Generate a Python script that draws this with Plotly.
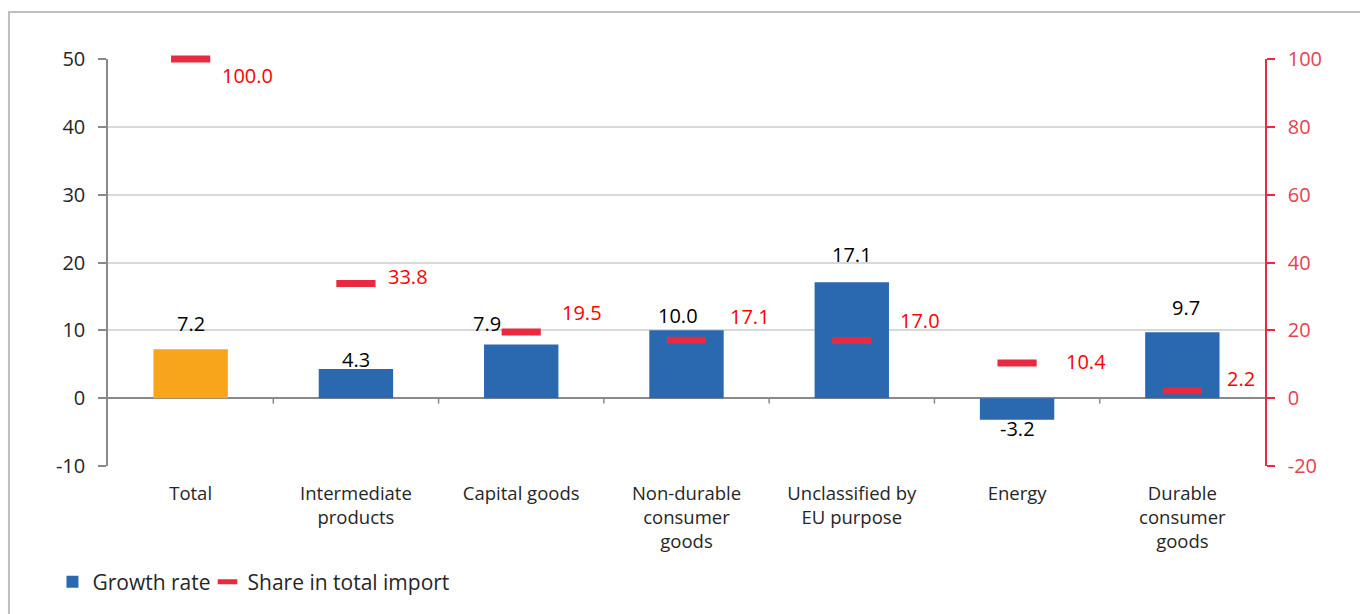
import plotly.graph_objects as go

categories = ["Total", "Intermediate<br>products", "Capital goods", "Non-durable<br>consumer<br>goods",
              "Unclassified by<br>EU purpose", "Energy", "Durable<br>consumer<br>goods"]
growth_rate = [7.2, 4.3, 7.9, 10.0, 17.1, -3.2, 9.7]
import_share = [100.0, 33.8, 19.5, 17.1, 17.0, 10.4, 2.2]

left_ticks = [-10, 0, 10, 20, 30, 40, 50]
right_ticks = [-20, 0, 20, 40, 60, 80, 100]

BLUE = "#2A69B0"
ORANGE = "#F9A51B"
RED_MARK = "#E8293F"
RED_TEXT = "#FF0000"
AXIS_RED = "#E8414F"
GREY = "#898989"
FONT = "Open Sans"

# label nudges in pixels (distance of label centre from the bar end, sideways shift)
growth_gap = [26, 10, 21, 15, 28, 9, 24.5]
growth_dx = [0, 0, -34, -8.5, 0, 0, 4]
# share labels: start offset to the right of the marker, vertical offset (down = positive)
share_dx = [29, 30, 39, 41, 46, 47, 43]
share_dy = [16, -7, -20, -24, -20, -1.6, -12]

fig = go.Figure()
# total bar in orange, the product groups in blue
fig.add_trace(go.Bar(
    x=categories[:1], y=growth_rate[:1], name="Total",
    marker=dict(color=ORANGE, line=dict(width=0)), width=0.45, showlegend=False,
))
fig.add_trace(go.Bar(
    x=categories[1:], y=growth_rate[1:], name="Growth rate",
    marker=dict(color=BLUE, line=dict(width=0)), width=0.45, legend="legend",
))
fig.add_trace(go.Scatter(
    x=categories, y=import_share, name="Share in total import", mode="markers",
    marker=dict(symbol="line-ew", size=28, line=dict(width=7, color=RED_MARK), color=RED_MARK),
    yaxis="y2", cliponaxis=False, showlegend=False,
))
# legend entry for the share markers
fig.add_trace(go.Scatter(
    x=[None], y=[None], name="Share in total import", mode="markers",
    marker=dict(symbol="line-ew", size=14, line=dict(width=5, color=RED_MARK), color=RED_MARK),
    yaxis="y2", legend="legend2",
))

annotations = []
for i, (c, v) in enumerate(zip(categories, growth_rate)):
    annotations.append(dict(
        x=c, y=v, xref="x", yref="y", text=f"{v:.1f}", showarrow=False,
        yanchor="middle", xanchor="center",
        yshift=growth_gap[i] if v >= 0 else -growth_gap[i], xshift=growth_dx[i],
        font=dict(family=FONT, size=20, color="#000000"),
    ))
for i, (c, v) in enumerate(zip(categories, import_share)):
    annotations.append(dict(
        x=c, y=v, xref="x", yref="y2", text=f"{v:.1f}", showarrow=False,
        xanchor="left", yanchor="middle", xshift=share_dx[i], yshift=-share_dy[i],
        font=dict(family=FONT, size=20, color=RED_TEXT),
    ))

# small ticks on the zero line between categories
shapes = []
for i in range(1, len(categories)):
    shapes.append(dict(type="line", xref="x", yref="y", x0=i - 0.5, x1=i - 0.5,
                       y0=0, y1=-0.8, line=dict(color=GREY, width=1.5)))
# outer chart frame
shapes.append(dict(type="rect", xref="paper", yref="paper",
                   x0=-0.0856, x1=1.2, y0=-0.5, y1=1.1152,
                   line=dict(color="#BFBFBF", width=2), layer="below"))

legend_style = dict(orientation="h", y=-0.232, xanchor="left", yanchor="top",
                    font=dict(family=FONT, size=21, color="#262626"),
                    itemwidth=30, bgcolor="rgba(0,0,0,0)")

fig.update_layout(
    width=1360, height=614,
    margin=dict(l=108, r=95, t=59, b=147),
    paper_bgcolor="white", plot_bgcolor="white",
    font=dict(family=FONT, size=18, color="#262626"),
    barmode="overlay",
    showlegend=True,
    legend=dict(x=-0.048, **legend_style),
    legend2=dict(x=0.086, **legend_style),
    xaxis=dict(type="category", showgrid=False, showline=False, ticks="",
               tickfont=dict(family=FONT, size=18.5, color="#262626"),
               ticklabelstandoff=14, range=[-0.5, 6.5]),
    yaxis=dict(range=[-10, 50], tickvals=left_ticks, ticktext=[str(t) for t in left_ticks],
               showgrid=True, gridcolor="#D9D9D9", gridwidth=1.5,
               zeroline=True, zerolinecolor=GREY, zerolinewidth=2,
               showline=True, linecolor=GREY, linewidth=1.5,
               ticks="outside", ticklen=8, tickcolor=GREY, tickwidth=1.5,
               tickfont=dict(family=FONT, size=20, color="#262626"), ticklabelstandoff=9),
    yaxis2=dict(range=[-20, 100], tickvals=right_ticks, ticktext=[str(t) for t in right_ticks],
                overlaying="y", side="right", showgrid=False,
                zeroline=False, showline=True, linecolor=RED_MARK, linewidth=1.5,
                ticks="outside", ticklen=8, tickcolor=RED_MARK, tickwidth=1.5,
                tickfont=dict(family=FONT, size=20, color=AXIS_RED), ticklabelstandoff=9),
    annotations=annotations,
    shapes=shapes,
)

fig.write_html("out.html")
